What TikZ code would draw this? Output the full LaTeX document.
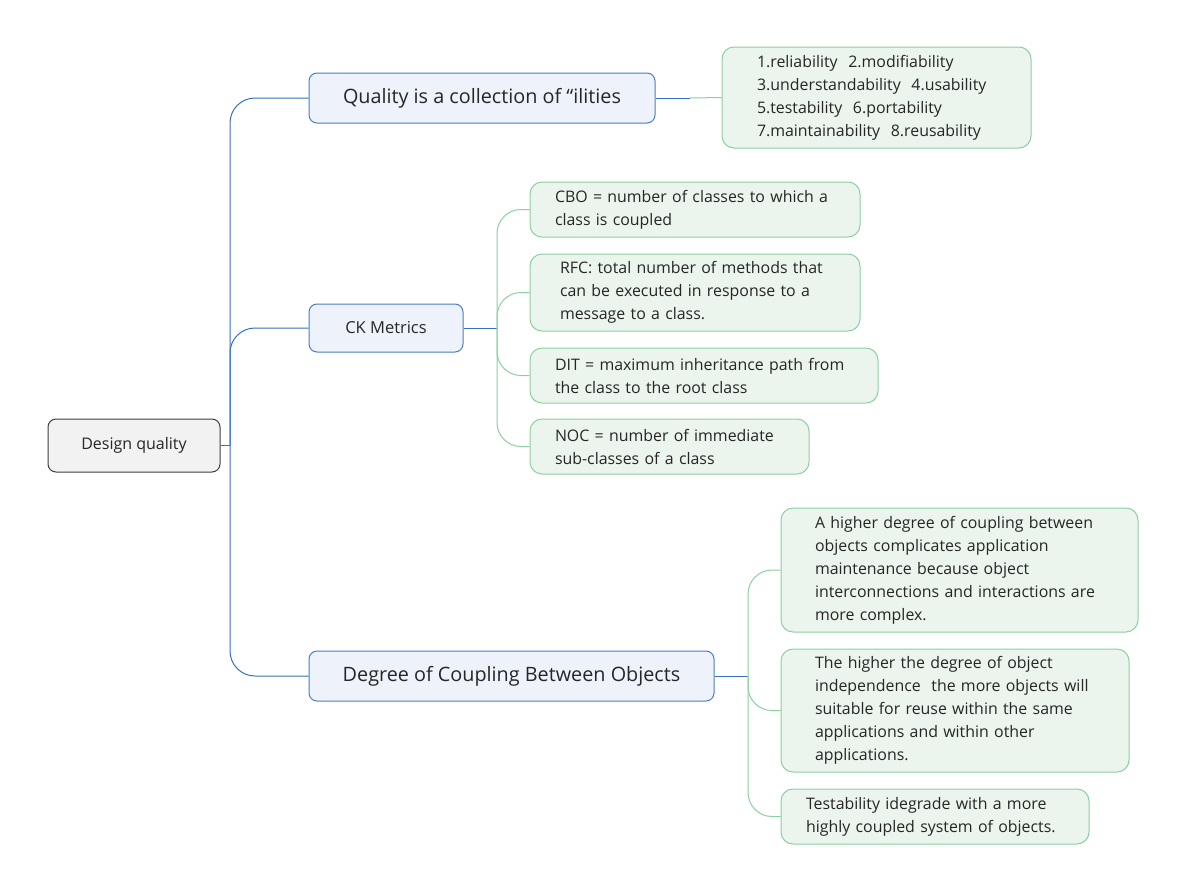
\documentclass[tikz,border=0pt]{standalone}
\usepackage{fontspec}
\setmainfont{Open Sans}
\definecolor{bline}{HTML}{3570B8}
\definecolor{bfill}{HTML}{EEF3FB}
\definecolor{bdraw}{HTML}{4A7EC0}
\definecolor{gline}{HTML}{8CD0A0}
\definecolor{gfill}{HTML}{EBF5EE}
\definecolor{rfill}{HTML}{F2F2F2}
\definecolor{rdraw}{HTML}{3F3F3F}
\definecolor{txt}{HTML}{262626}
\begin{document}
\begin{tikzpicture}[x=1pt,y=-1pt,
  every node/.style={text=txt},
  rootbox/.style={draw=rdraw, fill=rfill, rounded corners=8pt, line width=1pt, inner sep=0pt, align=center, font=\fontsize{16}{19}\selectfont},
  bluebox/.style={draw=bdraw, fill=bfill, rounded corners=8pt, line width=1pt, inner sep=0pt, align=center},
  greenbox/.style={draw=gline, fill=gfill, rounded corners=12pt, line width=1pt, inner sep=0pt, align=left, font=\fontsize{15.9}{23}\selectfont},
  titlefont/.style={font=\fontsize{19.8}{23}\selectfont},
  bconn/.style={draw=bline, line width=1pt, rounded corners=25pt},
  gconn/.style={draw=gline, line width=1pt, rounded corners=24pt}]
\useasboundingbox (0,0) rectangle (1187,892);

% root
\node[rootbox, minimum width=172, minimum height=53] (root) at (134,445.5) {Design quality};

% level 1
\node[bluebox, titlefont, minimum width=346, minimum height=50] (q) at (482,98) {Quality is a collection of “ilities};
\node[bluebox, font=\fontsize{16.5}{19}\selectfont, minimum width=154, minimum height=48] (ck) at (386,328) {CK Metrics};
\node[bluebox, titlefont, minimum width=405, minimum height=50] (d) at (511.5,676) {Degree of Coupling Between Objects};

% ilities
\node[greenbox, minimum width=309, minimum height=101, text width=239] (il) at (876.5,97.5)
  {1.reliability\ \ 2.modifiability\\3.understandability\ \ 4.usability\\5.testability\ \ 6.portability\\7.maintainability\ \ 8.reusability};

% CK metrics children
\node[greenbox, minimum width=330, minimum height=55, text width=280] (cbo) at (695,209.5)
  {CBO = number of classes to which a\\class is coupled};
\node[greenbox, minimum width=330, minimum height=77, text width=270] (rfc) at (695,292.5)
  {RFC: total number of methods that\\can be executed in response to a\\message to a class.};
\node[greenbox, minimum width=348, minimum height=55, text width=298] (dit) at (704,375.5)
  {DIT = maximum inheritance path from\\the class to the root class};
\node[greenbox, minimum width=279, minimum height=55, text width=229] (noc) at (669.5,446.5)
  {NOC = number of immediate\\sub-classes of a class};

% coupling children
\node[greenbox, minimum width=357, minimum height=124, text width=289] (c1) at (959.5,570)
  {A higher degree of coupling between\\objects complicates application\\maintenance because object\\interconnections and interactions are\\more complex.};
\node[greenbox, minimum width=348, minimum height=123, text width=280] (c2) at (955,710.5)
  {The higher the degree of object\\independence\ \ the more objects will\\suitable for reuse within the same\\applications and within other\\applications.};
\node[greenbox, minimum width=308, minimum height=55, text width=258] (c3) at (935,816.5)
  {Testability idegrade with a more\\highly coupled system of objects.};

% junctions
\coordinate (j0) at (230,445.5);
\coordinate (jq) at (690,98);
\coordinate (jck) at (497,328);
\coordinate (jd) at (748,676);

% trunk connectors
\draw[bconn] (root.east) -- (j0);
\draw[bconn] (j0) |- (q.west);
\draw[bconn] (j0) |- (ck.west);
\draw[bconn] (j0) |- (d.west);

% quality -> ilities
\draw[bconn] (q.east) -- (jq);
\draw[gconn] (jq) -- (il.west);

% CK -> metrics
\draw[bconn] (ck.east) -- (jck);
\draw[gconn] (jck) |- (cbo.west);
\draw[gconn] (jck) |- (rfc.west);
\draw[gconn] (jck) |- (dit.west);
\draw[gconn] (jck) |- (noc.west);

% Degree -> statements
\draw[bconn] (d.east) -- (jd);
\draw[gconn] (jd) |- (c1.west);
\draw[gconn] (jd) |- (c2.west);
\draw[gconn] (jd) |- (c3.west);
\end{tikzpicture}
\end{document}
